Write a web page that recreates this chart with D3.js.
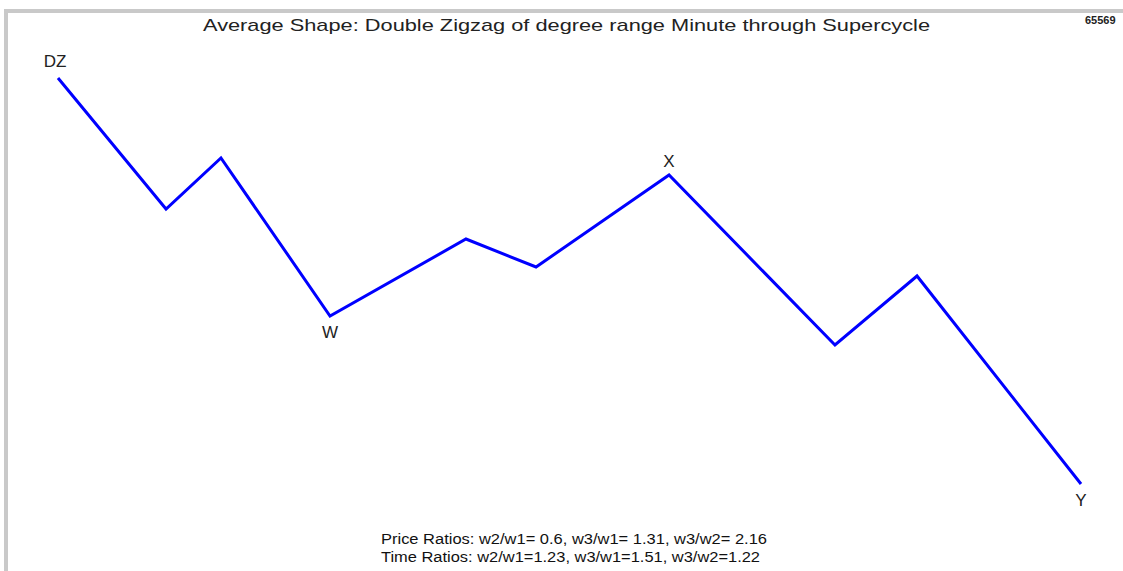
<!DOCTYPE html>
<html>
<head>
<meta charset="utf-8">
<script src="https://cdn.jsdelivr.net/npm/d3@7"></script>
<style>
  html, body { margin: 0; padding: 0; background: #fff; }
  svg { display: block; font-family: "Liberation Sans", Arial, sans-serif; }
</style>
</head>
<body>
<div id="chart"></div>
<script>
// wave pivots: time position (0-100) and price level (0-100)
var pivotTimes  = [0, 10.56, 15.93, 26.59, 39.88, 46.73, 59.73, 75.95, 83.97, 100]
var pivotPrices = [100, 67.73, 80.30, 41.38, 60.34, 53.45, 76.11, 34.24, 51.23, 0]
var pivotLabels = ["DZ", "", "", "W", "", "", "X", "", "", "Y"]
var labelSide   = ["above", "", "", "below", "", "", "above", "", "", "below"]

var title = "Average Shape: Double Zigzag of degree range Minute through Supercycle"
var idText = "65569"
var ratioLines = [
  "Price Ratios: w2/w1= 0.6, w3/w1= 1.31, w3/w2= 2.16",
  "Time Ratios: w2/w1=1.23, w3/w1=1.51, w3/w2=1.22"
]

var width = 1123, height = 571

var svg = d3.select('#chart').append('svg')
    .attr('width', width)
    .attr('height', height)

// frame
svg.append('rect')
    .attr('x', 6).attr('y', 11)
    .attr('width', 1300).attr('height', 700)
    .attr('fill', '#fff')
    .attr('stroke', '#c9c9c9')
    .attr('stroke-width', 4)

var x = d3.scaleLinear().domain([0, 100]).range([58, 1081]),
    y = d3.scaleLinear().domain([0, 100]).range([484, 78])

var data = pivotTimes.map(function(t, i) {
  return {t: t, p: pivotPrices[i], label: pivotLabels[i], side: labelSide[i]}
})

var line = d3.line()
    .x(function(d) { return x(d.t) })
    .y(function(d) { return y(d.p) })

svg.append('path')
    .datum(data)
    .attr('fill', 'none')
    .attr('stroke', '#0000ff')
    .attr('stroke-width', 3)
    .attr('stroke-linejoin', 'miter')
    .attr('d', line)

svg.selectAll('.pivot-label')
    .data(data.filter(function(d) { return d.label }))
  .enter().append('text')
    .attr('class', 'pivot-label')
    .attr('x', function(d) { return x(d.t) - (d.label == 'DZ' ? 3 : 0) })
    .attr('y', function(d) { return y(d.p) + (d.side == 'above' ? (d.label == 'DZ' ? -11 : -8) : 22) })
    .attr('text-anchor', 'middle')
    .attr('font-size', 17)
    .attr('fill', '#222')
    .text(function(d) { return d.label })

svg.append('text')
    .attr('x', 203).attr('y', 31)
    .attr('font-size', 17)
    .attr('fill', '#222')
    .attr('textLength', 727)
    .attr('lengthAdjust', 'spacingAndGlyphs')
    .text(title)

svg.append('text')
    .attr('x', 1085).attr('y', 24)
    .attr('font-size', 11)
    .attr('font-weight', 'bold')
    .attr('fill', '#222')
    .text(idText)

svg.selectAll('.ratio')
    .data(ratioLines)
  .enter().append('text')
    .attr('class', 'ratio')
    .attr('x', 381)
    .attr('y', function(d, i) { return 544 + i * 18 })
    .attr('font-size', 14)
    .attr('fill', '#111')
    .attr('textLength', function(d, i) { return i == 0 ? 386 : 379 })
    .attr('lengthAdjust', 'spacingAndGlyphs')
    .text(function(d) { return d })
</script>
</body>
</html>
